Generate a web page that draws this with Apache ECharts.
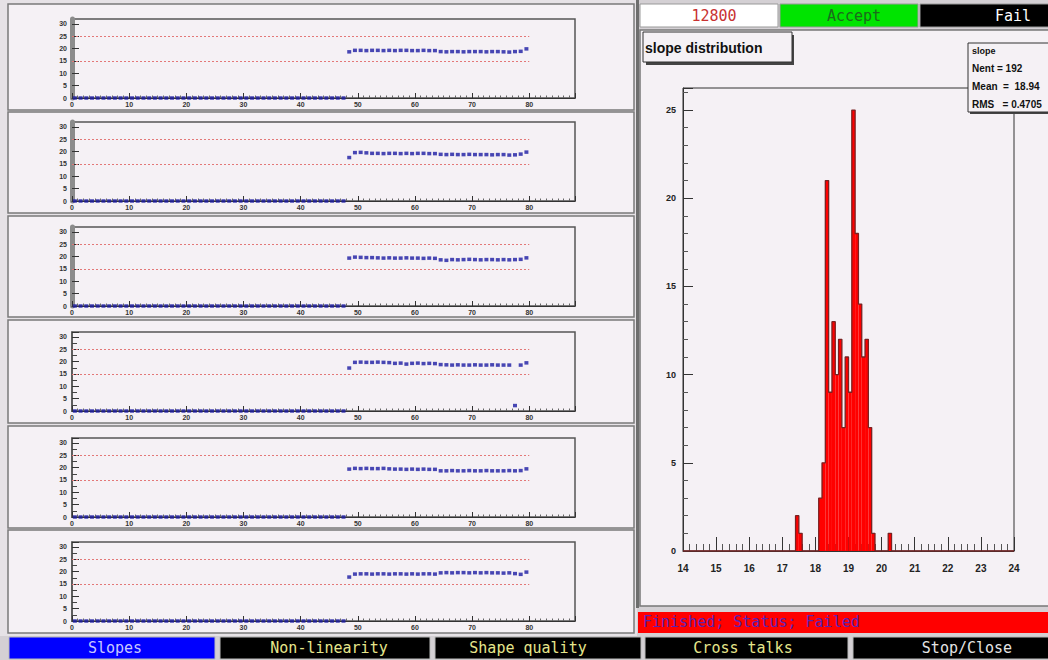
<!DOCTYPE html>
<html><head><meta charset="utf-8">
<script src="https://cdn.jsdelivr.net/npm/echarts@6/dist/echarts.min.js"></script>
<style>html,body{margin:0;padding:0;background:#d8d4d8;}#c{width:1048px;height:660px;}</style>
</head><body><div id="c"></div>
<script>
// ---------- data ----------
const zeroRun = [0,0,0,0,0,0,0,0,0,0,0,0,0,0,0,0,0,0,0,0,0,0,0,0,0,0,0,0,0,0,0,0,0,0,0,0,0,0,0,0,0,0,0,0,0,0,0,0];
const slopes1 = [18.7,19.3,19.3,19.2,19.3,19.3,19.2,19.3,19.2,19.3,19.3,19.2,19.2,19.3,19.2,19.2,18.8,18.7,18.8,18.8,18.7,18.8,18.8,18.8,18.7,18.8,18.8,18.7,18.6,18.8,18.9,19.9];
const slopes2 = [17.6,19.6,19.7,19.5,19.3,19.3,19.2,19.3,19.3,19.2,19.3,19.2,19.3,19.3,19.2,19.2,18.9,18.8,18.9,18.8,18.8,18.9,18.8,18.8,18.8,18.7,18.8,18.8,18.6,18.7,19.0,19.8];
const slopes3 = [19.4,19.8,19.7,19.6,19.6,19.5,19.4,19.5,19.4,19.4,19.5,19.4,19.4,19.3,19.4,19.3,18.7,18.5,18.8,18.7,18.8,18.9,18.8,18.7,18.8,18.8,18.7,18.8,18.7,18.8,18.9,19.5];
const slopes4 = [17.4,19.7,19.8,19.7,19.7,19.8,19.7,19.6,19.3,19.4,19.0,19.3,19.4,19.2,19.3,19.2,18.8,18.7,18.6,18.7,18.6,18.6,18.7,18.6,18.6,18.7,18.6,18.6,18.6,2.2,18.6,19.5];
const slopes5 = [19.4,19.7,19.6,19.7,19.6,19.6,19.7,19.5,19.4,19.4,19.3,19.4,19.3,19.4,19.3,19.3,18.7,18.7,18.8,18.7,18.7,18.8,18.7,18.7,18.8,18.7,18.7,18.7,18.8,18.7,18.8,19.5];
const slopes6 = [17.8,19.0,19.1,19.1,19.0,19.1,19.1,19.0,19.1,19.1,19.0,19.1,19.0,19.1,19.1,19.0,19.5,19.6,19.5,19.6,19.6,19.5,19.6,19.5,19.6,19.5,19.5,19.4,19.5,19.2,18.9,19.8];
const limitLow = 15, limitHigh = 25, limitEnd = 80;
const xTicksSmall = {min:0, max:88, interval:10};
const yTicksSmall = {min:0, max:32, interval:5};

const histLow   = [17.4,17.5,18.1,18.2,18.3,18.4,18.5,18.6,18.7,18.8,18.9,19.0,19.1,19.2,19.3,19.4,19.5,19.6,19.7,20.2];
const histCount = [2,1,3,5,21,9,13,10,12,7,11,9,25,18,14,11,12,7,1,1];
const binWidth = 0.1, histMin = 14, histMax = 24, histYMax = 26.25;
const statsLines = ['slope','Nent = 192','Mean\u00a0\u00a0=\u00a0\u00a018.94','RMS\u00a0\u00a0\u00a0=\u00a00.4705'];

// ---------- layout ----------
const rowTops = [19,122,227,332,438,542];
const padTops = [4,112,216,320,426,530];
const padHeights = [106,101,101,103,102,103];
const rows = [slopes1,slopes2,slopes3,slopes4,slopes5,slopes6].map(s => zeroRun.concat(s));
const channelCenters = rows[0].map((_, k) => k + 0.5);

const mono = '"DejaVu Sans Mono", monospace';
const helv = '"Liberation Sans", Arial, sans-serif';

const grids = [], xAxes = [], yAxes = [], series = [];
rows.forEach((vals, i) => {
  const dense = i >= 3;
  grids.push({left:72, top:rowTops[i], width:503, height:79, show:true, borderColor:'#555', borderWidth:1.5, backgroundColor:'transparent'});
  xAxes.push({gridIndex:i, type:'value', min:xTicksSmall.min, max:xTicksSmall.max, interval:xTicksSmall.interval,
    axisLine:{show:true, onZero:false, lineStyle:{color:'#333', width:1}},
    axisTick:{show:true, inside:true, length:5, lineStyle:{color:'#333'}},
    minorTick:{show:true, splitNumber:10, length:2.5, lineStyle:{color:'#666'}},
    splitLine:{show:false},
    axisLabel:{fontSize:7, fontWeight:'bold', color:'#333', margin:3, showMaxLabel:false, fontFamily:helv}});
  yAxes.push({gridIndex:i, type:'value', min:yTicksSmall.min, max:yTicksSmall.max, interval:yTicksSmall.interval,
    axisLine:{show:true, onZero:false, lineStyle:{color: dense ? '#555' : '#8c8c8c', width: dense ? 1.5 : 5}},
    axisTick:{show:true, inside:true, length:7, lineStyle:{color:'#333'}},
    minorTick:{show:dense, splitNumber:2, length:5, lineStyle:{color:'#444'}},
    splitLine:{show:false},
    axisLabel:{fontSize:7, fontWeight:'bold', color:'#333', margin:5, showMaxLabel:false, fontFamily:helv}});
  series.push({type:'scatter', xAxisIndex:i, yAxisIndex:i, symbol:'rect', symbolSize:[4,3.5],
    itemStyle:{color:'#1c1ca2'}, z:5, silent:true,
    data: vals.map((v, k) => [channelCenters[k], v]),
    markLine:{silent:true, symbol:'none', label:{show:false},
      lineStyle:{color:'#e37878', type:[2,2], width:1},
      data:[[{coord:[0,limitHigh]},{coord:[limitEnd,limitHigh]}],[{coord:[0,limitLow]},{coord:[limitEnd,limitLow]}]]}});
});

// histogram
const H = 6;
grids.push({left:683, top:88, width:331, height:463, show:true, borderColor:'#333', borderWidth:1, backgroundColor:'transparent'});
xAxes.push({gridIndex:H, type:'value', min:histMin, max:histMax, interval:1,
  axisLine:{show:true, onZero:false, lineStyle:{color:'#333'}},
  axisTick:{show:true, inside:true, length:14, lineStyle:{color:'#333'}},
  minorTick:{show:true, splitNumber:5, length:7, lineStyle:{color:'#555'}},
  splitLine:{show:false},
  axisLabel:{fontSize:10, fontWeight:'bold', color:'#222', margin:12, fontFamily:helv}});
yAxes.push({gridIndex:H, type:'value', min:0, max:histYMax, interval:5,
  axisLine:{show:true, onZero:false, lineStyle:{color:'#333'}},
  axisTick:{show:true, inside:true, length:10, lineStyle:{color:'#333'}},
  minorTick:{show:true, splitNumber:5, length:5, lineStyle:{color:'#555'}},
  splitLine:{show:false},
  axisLabel:{fontSize:9, fontWeight:'bold', color:'#222', margin:7, showMaxLabel:false, fontFamily:helv,
    formatter: v => (v % 5 === 0 ? String(v) : '')}});
series.push({type:'custom', xAxisIndex:H, yAxisIndex:H, z:3, silent:true,
  data: histLow.map((lo, k) => [lo, histCount[k]]),
  renderItem: (params, api) => {
    const lo = api.value(0), c = api.value(1);
    const p0 = api.coord([lo, c]), p1 = api.coord([lo + binWidth, 0]);
    return {type:'rect', shape:{x:p0[0], y:p0[1], width:p1[0]-p0[0], height:p1[1]-p0[1]}, style:{fill:'#ff0000'}};
  }});
// outline (ROOT style step line) built from the same histogram arrays
const nBins = Math.round((histMax - histMin) / binWidth);
const outline = [];
for (let b = 0; b < nBins; b++) {
  const lo = Math.round((histMin + b * binWidth) * 10) / 10;
  const idx = histLow.findIndex(v => Math.abs(v - lo) < 1e-6);
  outline.push([lo, idx >= 0 ? histCount[idx] : 0]);
}
outline.push([histMax, outline[outline.length - 1][1]]);
series.push({type:'line', xAxisIndex:H, yAxisIndex:H, step:'end', data:outline, symbol:'none', z:4, silent:true,
  lineStyle:{color:'#7a2222', width:1.3}});

// ---------- GUI chrome ----------
const g = [];
const rect = (x,y,w,h,fill,stroke,lw,z) => g.push({type:'rect', z:z===undefined?-10:z, silent:true, shape:{x,y,width:w,height:h}, style:{fill, stroke:stroke||null, lineWidth:lw||0}});
const text = (t,x,y,font,fill,align,z) => g.push({type:'text', z:z===undefined?-5:z, silent:true, style:{text:t, x, y, font, fill, textAlign:align||'center', textVerticalAlign:'middle'}});

rect(0,0,1048,660,'#d4d0d4');
rect(0,0,637,636,'#e6e2e6');
padTops.forEach((t,i) => rect(8,t,626,padHeights[i],'#f5f1f5','#7a7a7a',1.5));
rect(636,0,3,608,'#6e6e6e');
// top status buttons
rect(640,4,138,23,'#ffffff','#999',1);
rect(780,4,138,23,'#00e400','#999',1);
rect(920,4,140,23,'#000000','#999',1);
text('12800',714,16,'15px '+mono,'#c83232');
text('Accept',854,16,'15px '+mono,'#1c6a1c');
text('Fail',1013,16,'15px '+mono,'#ffffff');
// right pad
rect(640,30,420,576,'#f5f1f5','#777',1.5);
// status bar
rect(638,612,420,21,'#ff0000');
text('Finished; Status; Failed',643,622,'15px '+mono,'#5a22b4','left');
// bottom buttons
rect(9,637,206,22,'#0000ff','#bbb',1);
rect(220,637,210,22,'#000','#bbb',1);
rect(435,637,206,22,'#000','#bbb',1);
rect(645,637,203,22,'#000','#bbb',1);
rect(853,637,200,22,'#000','#bbb',1);
text('Slopes',115,648,'15px '+mono,'#c8c8ff');
text('Non-linearity',329,648,'15px '+mono,'#e6e68c');
text('Shape quality',528,648,'15px '+mono,'#e6e68c');
text('Cross talks',743,648,'15px '+mono,'#e6e68c');
text('Stop/Close',967,648,'15px '+mono,'#e4e4e4');
// title box
rect(646,35,148,30,'#444',null,0,90);
rect(643,32,149,30,'#f5f1f5','#333',1,91);
text('slope distribution',645,48,'bold 14px '+helv,'#111','left',92);
// stats box
rect(970,45,100,69,'#444',null,0,90);
rect(968,43,100,69,'#f5f1f5','#333',1,91);
statsLines.forEach((s,k) => text(s,972,[51,68,86,104][k], (k===0?'bold 9px ':'bold 10px ')+helv,'#111','left',92));

const chart = echarts.init(document.getElementById('c'), null, {renderer:'svg', width:1048, height:660});
chart.setOption({animation:false, backgroundColor:'#d4d0d4', grid:grids, xAxis:xAxes, yAxis:yAxes, series, graphic:{elements:g}});
</script></body></html>
